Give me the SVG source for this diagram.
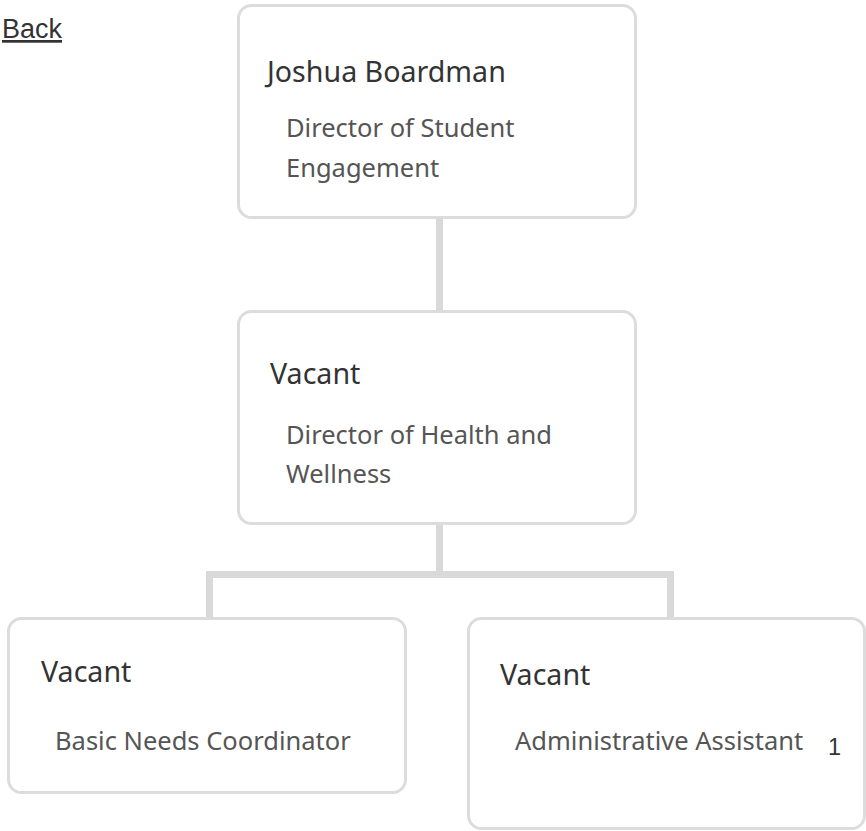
<svg xmlns="http://www.w3.org/2000/svg" width="866" height="831" viewBox="0 0 866 831">
<style>
.box{fill:#fff;stroke:#dcdcdc;stroke-width:3}
.conn{stroke:#d9d9d9;stroke-width:7;fill:none}
.title{font-family:"Noto Sans",sans-serif;font-size:28.6px;fill:#333}
.sub{font-family:"Noto Sans",sans-serif;font-size:25.5px;fill:#555}
.back{font-family:"Liberation Sans",Arial,sans-serif;font-size:27px;fill:#333;text-decoration:underline}
.num{font-family:"Liberation Sans",Arial,sans-serif;font-size:23.5px;fill:#333}
</style>
<rect width="866" height="831" fill="#fff"/>
<text class="back" x="2" y="38">Back</text>
<g id="connectors">
<line class="conn" x1="439.5" y1="218" x2="439.5" y2="314"/>
<line class="conn" x1="439.5" y1="524" x2="439.5" y2="578"/>
<polyline class="conn" points="209.5,622 209.5,574.5 670.5,574.5 670.5,622"/>
</g>
<g id="node-joshua">
<rect class="box" x="238.5" y="5.5" width="397" height="212" rx="13"/>
<text class="title" x="267" y="82">Joshua Boardman</text>
<text class="sub" x="286" y="137">Director of Student</text>
<text class="sub" x="286" y="177">Engagement</text>
</g>
<g id="node-health">
<rect class="box" x="238.5" y="311.5" width="397" height="212" rx="13"/>
<text class="title" x="270" y="384">Vacant</text>
<text class="sub" x="286" y="444">Director of Health and</text>
<text class="sub" x="286" y="483">Wellness</text>
</g>
<g id="node-basic">
<rect class="box" x="8.5" y="618.5" width="397" height="174" rx="13"/>
<text class="title" x="41" y="682">Vacant</text>
<text class="sub" x="55" y="750">Basic Needs Coordinator</text>
</g>
<g id="node-admin">
<rect class="box" x="468.5" y="618.5" width="396" height="210" rx="13"/>
<text class="title" x="500" y="685">Vacant</text>
<text class="sub" x="515" y="750">Administrative Assistant</text>
<text class="num" x="828" y="755">1</text>
</g>
</svg>
